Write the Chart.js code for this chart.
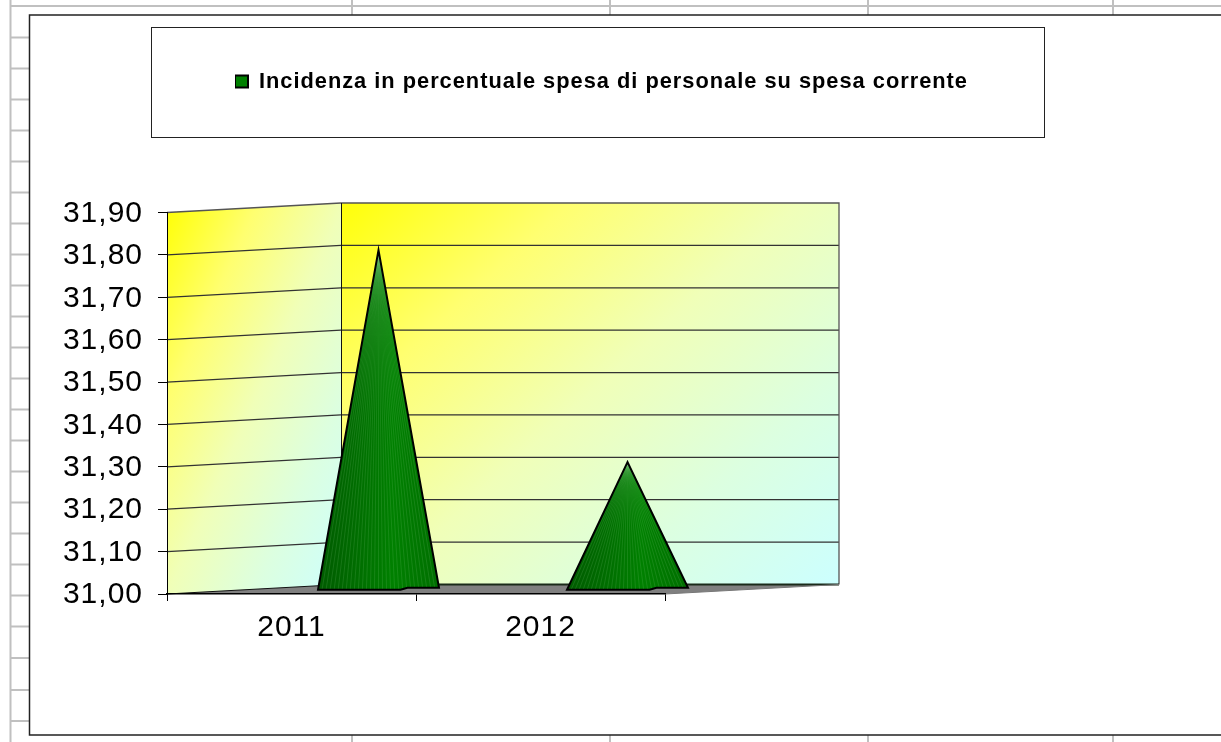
<!DOCTYPE html>
<html>
<head>
<meta charset="utf-8">
<style>
html, body { margin: 0; padding: 0; background: #fff; }
canvas { display: block; }
</style>
<script src="https://cdn.jsdelivr.net/npm/chart.js@4/dist/chart.umd.min.js"></script>
</head>
<body>
<canvas id="c" width="1221" height="742" style="width:1221px;height:742px"></canvas>
<script>
const categories = ["2011", "2012"];
const seriesName = "Incidenza in percentuale spesa di personale su spesa corrente";
const seriesValues = [31.80, 31.30];
const yMin = 31.0;
const yMax = 31.9;
const yStep = 0.1;

// pseudo 3D depth of the excel chart
const depthX = 174;
const depthY = -9.5;

// worksheet cells behind the chart
const rowLines = [37.5, 68.5, 99.5, 130.5, 161.5, 192.5, 223.5, 254.5, 285.5, 316.5, 347.5, 378.5, 409.5, 440.5, 471.5, 502.5, 533.5, 564.5, 595.5, 626.5, 658, 690, 721];
const colLines = [352, 610, 868, 1113];

function wallGradient(ctx, x0, y0, x1, y1) {
	const g = ctx.createLinearGradient(x0, y0, x1, y1);
	g.addColorStop(0, "#ffff08");
	g.addColorStop(0.25, "#ffff70");
	g.addColorStop(0.5, "#f0ffb8");
	g.addColorStop(0.75, "#dcffe0");
	g.addColorStop(1, "#ccffff");
	return g;
}

const sheetAndWalls = {
	id: "sheetAndWalls",
	beforeUpdate(chart) {
		chart.ctx.letterSpacing = "1px";
	},
	afterLayout(chart) {
		const l = chart.legend;
		l.left = 235; l.right = 1049; l.width = 814;
		l.top = 64.5; l.bottom = 98.5; l.height = 34;
	},
	beforeDraw(chart) {
		const ctx = chart.ctx;
		const x = chart.scales.x, y = chart.scales.y;
		const left = x.left, right = x.right;
		const bottom = y.getPixelForValue(yMin), top = y.getPixelForValue(yMax);
		ctx.letterSpacing = "1px";

		ctx.save();
		// sheet grid
		ctx.strokeStyle = "#c0c0c0";
		ctx.lineWidth = 2;
		ctx.beginPath();
		ctx.moveTo(10, 6); ctx.lineTo(1221, 6);
		ctx.moveTo(10.5, 0); ctx.lineTo(10.5, 742);
		rowLines.forEach(r => { ctx.moveTo(10, r); ctx.lineTo(29, r); });
		colLines.forEach(c => {
			ctx.moveTo(c, 0); ctx.lineTo(c, 15);
			ctx.moveTo(c, 735); ctx.lineTo(c, 742);
		});
		ctx.stroke();

		// chart frame
		ctx.strokeStyle = "#222";
		ctx.lineWidth = 1.5;
		ctx.beginPath();
		ctx.moveTo(1221, 15); ctx.lineTo(29.5, 15); ctx.lineTo(29.5, 735); ctx.lineTo(1221, 735);
		ctx.stroke();

		// legend box
		ctx.lineWidth = 1;
		ctx.strokeStyle = "#222";
		ctx.strokeRect(151.5, 27.5, 893, 110);

		// side wall
		ctx.fillStyle = wallGradient(ctx, left, top, left + 288, top + 131);
		ctx.beginPath();
		ctx.moveTo(left, top); ctx.lineTo(left + depthX, top + depthY);
		ctx.lineTo(left + depthX, bottom + depthY); ctx.lineTo(left, bottom);
		ctx.closePath();
		ctx.fill();

		// back wall
		ctx.fillStyle = wallGradient(ctx, left + depthX, top + depthY, left + depthX + 416, top + depthY + 456);
		ctx.fillRect(left + depthX, top + depthY, right - left, bottom - top);

		// floor
		ctx.fillStyle = "#808080";
		ctx.beginPath();
		ctx.moveTo(left, bottom); ctx.lineTo(right, bottom);
		ctx.lineTo(right + depthX, bottom + depthY); ctx.lineTo(left + depthX, bottom + depthY);
		ctx.closePath();
		ctx.fill();

		// grid lines, side then back
		ctx.strokeStyle = "#333";
		ctx.lineWidth = 1.3;
		for (let i = 1; i < 9; i++) {
			const py = y.getPixelForValue(yMin + i * yStep);
			ctx.beginPath();
			ctx.moveTo(left, py);
			ctx.lineTo(left + depthX, py + depthY);
			ctx.lineTo(right + depthX, py + depthY);
			ctx.stroke();
		}

		// wall outline
		ctx.strokeStyle = "#555";
		ctx.beginPath();
		ctx.moveTo(left, top); ctx.lineTo(left + depthX, top + depthY);
		ctx.lineTo(right + depthX, top + depthY);
		ctx.lineTo(right + depthX, bottom + depthY);
		ctx.stroke();
		ctx.strokeStyle = "#111";
		ctx.lineWidth = 1;
		ctx.beginPath();
		ctx.moveTo(left + depthX + 0.5, top + depthY); ctx.lineTo(left + depthX + 0.5, bottom + depthY);
		ctx.stroke();

		// floor edges
		ctx.beginPath();
		ctx.moveTo(left, bottom); ctx.lineTo(left + depthX, bottom + depthY);
		ctx.stroke();
		ctx.lineWidth = 2;
		ctx.strokeStyle = "#1a2a1a";
		ctx.beginPath();
		ctx.moveTo(left + depthX, bottom + depthY);
		ctx.lineTo(right + depthX, bottom + depthY);
		ctx.stroke();
		ctx.lineWidth = 1;
		ctx.strokeStyle = "#777";
		ctx.beginPath();
		ctx.moveTo(right, bottom); ctx.lineTo(right + depthX, bottom + depthY);
		ctx.stroke();
		ctx.restore();
	},
	// bars are replaced by the pyramids, half way into the depth
	beforeDatasetsDraw(chart) {
		const ctx = chart.ctx;
		chart.getDatasetMeta(0).data.forEach(bar => {
			const p = bar.getProps(["x", "y", "base", "width"], true);
			const cx = p.x + depthX / 2;
			const apexY = p.y + depthY / 2;
			const baseY = p.base + depthY / 2 + 1;
			const half = p.width / 2;
			const xl = cx - half, xr = cx + half;
			const outline = () => {
				ctx.beginPath();
				ctx.moveTo(cx, apexY);
				ctx.lineTo(xl, baseY);
				ctx.lineTo(cx + 22, baseY);
				ctx.lineTo(cx + 29, baseY - 2);
				ctx.lineTo(xr, baseY - 2);
				ctx.closePath();
			};
			ctx.save();
			const fill = ctx.createLinearGradient(xl, 0, xr, 0);
			fill.addColorStop(0, "#005a00");
			fill.addColorStop(0.3, "#006c00");
			fill.addColorStop(0.62, "#008000");
			fill.addColorStop(1, "#006e00");
			ctx.fillStyle = fill;
			outline();
			ctx.fill();

			// pale seams of the excel gradient fan, they crowd at the tip
			ctx.save();
			outline();
			ctx.clip();
			ctx.strokeStyle = "rgba(150,215,150,0.22)";
			ctx.lineWidth = 0.7;
			const seams = 30;
			for (let i = 1; i < seams; i++) {
				ctx.beginPath();
				ctx.moveTo(cx, apexY);
				ctx.lineTo(xl + (xr - xl) * i / seams, baseY);
				ctx.stroke();
			}
			ctx.restore();

			ctx.strokeStyle = "#000";
			ctx.lineWidth = 2;
			ctx.lineJoin = "miter";
			outline();
			ctx.stroke();
			ctx.restore();
		});
		return false;
	}
};

new Chart(document.getElementById("c"), {
	type: "bar",
	data: {
		labels: categories,
		datasets: [{
			label: seriesName,
			data: seriesValues,
			base: yMin,
			backgroundColor: "#008000",
			borderColor: "#000",
			borderWidth: 2,
			categoryPercentage: 1,
			barPercentage: 0.486
		}]
	},
	plugins: [sheetAndWalls],
	options: {
		responsive: false,
		animation: false,
		devicePixelRatio: 1,
		layout: { padding: { left: 0, right: 556, top: 212.5, bottom: 0 } },
		plugins: {
			tooltip: { enabled: false },
			title: { display: false },
			legend: {
				display: true,
				position: "chartArea",
				align: "center",
				labels: {
					boxWidth: 13,
					boxHeight: 12,
					padding: 0,
					color: "#000",
					font: { family: "'Liberation Sans'", size: 21.8, weight: "bold" }
				}
			}
		},
		scales: {
			x: {
				type: "category",
				offset: true,
				afterFit(s) { s.height = 148; },
				grid: { offset: true, drawOnChartArea: false, tickLength: 7, color: "#000", tickColor: "#000" },
				border: { color: "#000", width: 1.5 },
				ticks: {
					color: "#000",
					padding: 9,
					maxRotation: 0,
					font: { family: "'Liberation Sans'", size: 30 }
				}
			},
			y: {
				min: yMin,
				max: yMax,
				afterFit(s) { s.width = 167; },
				grid: { drawOnChartArea: false, tickLength: 9, color: "#000", tickColor: "#000" },
				border: { color: "#000", width: 1 },
				ticks: {
					stepSize: yStep,
					color: "#000",
					padding: 15,
					labelOffset: 1,
					font: { family: "'Liberation Sans'", size: 30 },
					callback: v => v.toFixed(2).replace(".", ",")
				}
			}
		}
	}
});
</script>
</body>
</html>
